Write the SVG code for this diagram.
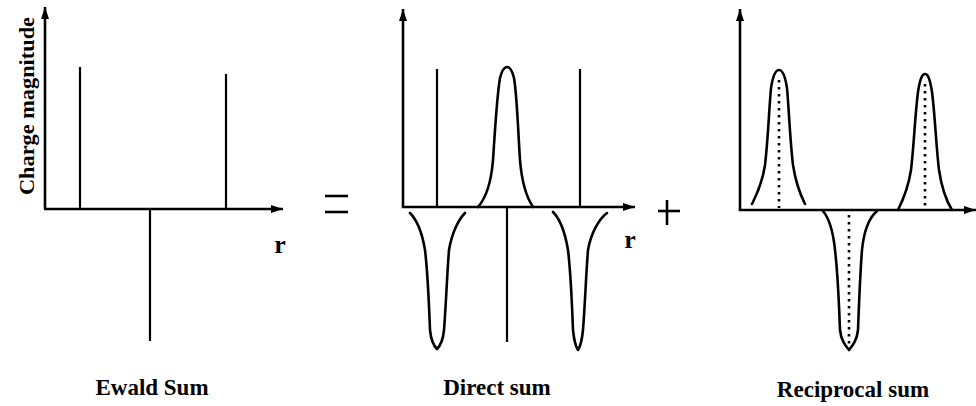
<svg xmlns="http://www.w3.org/2000/svg" width="976" height="406" viewBox="0 0 976 406">
<style>
.ax{stroke:#000;stroke-width:2.6;fill:none}
.sp{stroke:#000;stroke-width:2.2;fill:none}
.cv{stroke:#000;stroke-width:2.6;fill:none;stroke-linecap:round;stroke-linejoin:round}
.dt{stroke:#000;stroke-width:2.6;fill:none;stroke-dasharray:2.5 4.5}
.lb{font-family:"Liberation Serif","Times New Roman",serif;font-weight:bold;fill:#000}
</style>
<defs>
<marker id="ar" markerUnits="userSpaceOnUse" markerWidth="13" markerHeight="10" refX="12" refY="4.5" orient="auto">
<path d="M0,0.5 L12,4.5 L0,8.5 Z" fill="#000"/>
</marker>
</defs>
<rect width="976" height="406" fill="#fff"/>
<g id="connectors">
<line class="ax" x1="45" y1="209" x2="45" y2="7" marker-end="url(#ar)"/>
<line class="ax" x1="44" y1="209" x2="283" y2="209" marker-end="url(#ar)"/>
<line class="ax" x1="403" y1="208" x2="403" y2="9" marker-end="url(#ar)"/>
<line class="ax" x1="402" y1="207" x2="635" y2="207" marker-end="url(#ar)"/>
<line class="ax" x1="740" y1="211" x2="740" y2="9" marker-end="url(#ar)"/>
<line class="ax" x1="739" y1="210" x2="976" y2="210" marker-end="url(#ar)"/>
</g>
<g id="ewald">
<line class="sp" x1="80" y1="67" x2="80" y2="209"/>
<line class="sp" x1="226" y1="74" x2="226" y2="209"/>
<line class="sp" x1="150" y1="209" x2="150" y2="341"/>
<text class="lb" font-size="20" x="0" y="0" transform="translate(34,106) rotate(-90)" text-anchor="middle" textLength="178" lengthAdjust="spacingAndGlyphs">Charge magnitude</text>
<text class="lb" font-size="26" x="280" y="253" text-anchor="middle">r</text>
<text class="lb" font-size="23" x="152" y="395" text-anchor="middle">Ewald Sum</text>
</g>
<g id="equals">
<line class="ax" x1="325" y1="196" x2="348" y2="196"/>
<line class="ax" x1="325" y1="212" x2="348" y2="212"/>
</g>
<g id="direct">
<line class="sp" x1="437" y1="69" x2="437" y2="207"/>
<line class="sp" x1="580" y1="69" x2="580" y2="207"/>
<line class="sp" x1="507" y1="207" x2="507" y2="342"/>
<path class="cv" d="M478,207 C486,198 491,185 493,160 C495,130 497,95 500,78 C502,70 504,67 507,67 C510,67 512,70 514,78 C517,95 518,130 520,160 C522,185 527,198 533,207"/>
<path class="cv" d="M410,213 C416,219 422,232 425,250 C428,275 429,305 430,330 C431,340 434,346 437,349 C440,346 443,340 444,330 C446,305 447,275 449,250 C452,232 459,219 465,213"/>
<path class="cv" d="M553,212 C559,218 565,232 568,250 C571,275 572,305 573,330 C574,340 576,347 578,350 C580,347 582,340 583,330 C585,305 586,275 588,250 C591,232 600,218 607,213"/>
<text class="lb" font-size="26" x="630" y="248" text-anchor="middle">r</text>
<text class="lb" font-size="23" x="497" y="395" text-anchor="middle">Direct sum</text>
</g>
<g id="plus">
<line class="ax" x1="658" y1="211" x2="680" y2="211"/>
<line class="ax" x1="667" y1="200" x2="667" y2="225"/>
</g>
<g id="reciprocal">
<path class="cv" d="M752,204 C756,196 762,185 765,165 C768,140 769,110 771,88 C773,75 776,70 779,70 C782,70 785,75 787,88 C789,110 790,140 793,165 C796,185 801,196 805,204"/>
<path class="cv" d="M898,210 C902,202 908,190 911,170 C914,145 915,115 918,92 C920,79 922,74 925,74 C928,74 930,79 932,92 C935,115 936,145 939,170 C942,190 947,202 952,210"/>
<path class="cv" d="M823,211 C828,217 833,230 835,250 C838,275 839,305 840,330 C841,340 845,345 849,350 C853,345 857,340 858,330 C859,305 860,275 862,250 C864,230 870,217 877,211"/>
<line class="dt" x1="779" y1="80" x2="779" y2="208"/>
<line class="dt" x1="925" y1="84" x2="925" y2="208"/>
<line class="dt" x1="849" y1="215" x2="849" y2="344"/>
<text class="lb" font-size="23" x="853" y="397" text-anchor="middle">Reciprocal sum</text>
</g>
</svg>
